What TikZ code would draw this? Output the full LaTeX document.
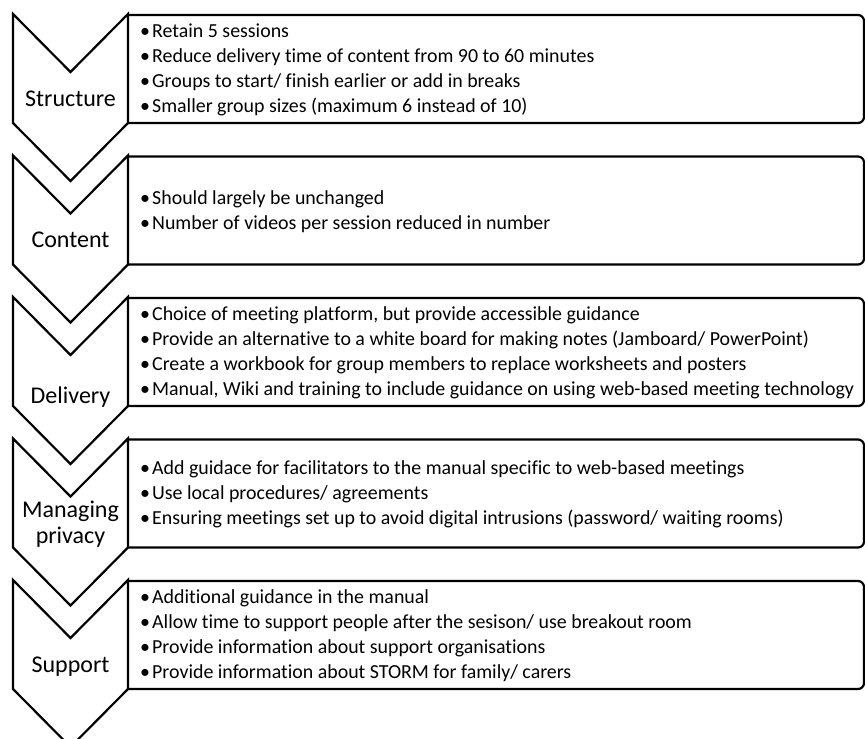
\documentclass[tikz,border=0pt]{standalone}
\usepackage{fontspec}
\setmainfont[Ligatures={NoCommon}]{Carlito}
\tikzset{
  chev/.style={draw=black, line width=2.2pt, line join=miter},
  panel/.style={draw=black, line width=2.2pt, rounded corners=6pt},
  lab/.style={font=\fontsize{24}{26}\selectfont, anchor=base, inner sep=0pt},
  item/.style={font=\fontsize{19.9}{25}\selectfont, anchor=base west, inner sep=0pt},
}
\newcommand\steprow[1]{%
  \draw[panel] (128,#1+1) -- (864,#1+1) -- (864,#1+109) -- (128,#1+109);
  \draw[chev] (13,#1) -- (70.5,#1+58) -- (128,#1) -- (128,#1+109) -- (70.5,#1+167) -- (13,#1+109) -- cycle;
}
\newcommand\bul{\makebox[12pt][l]{•}}
\begin{document}
\begin{tikzpicture}[x=1pt,y=-1pt]
\useasboundingbox (0,0) rectangle (865,739);
\clip (0,0) rectangle (865,739);
\steprow{14}
\steprow{155.5}
\steprow{297}
\steprow{438.5}
\steprow{580}
% labels
\node[lab] (l1) at (70.5,106) {Structure};
\node[lab] (l2) at (70.5,247) {Content};
\node[lab] (l3) at (70.5,403) {Delivery};
\node[lab] (l4a) at (70.5,517) {Managing};
\node[lab] (l4b) at (70.5,543) {privacy};
\node[lab] (l5) at (70.5,672) {Support};
% row 1
\node[item] (a1) at (140,37.5) {\bul Retain 5 sessions};
\node[item] (a2) at (140,62.5) {\bul Reduce delivery time of content from 90 to 60 minutes};
\node[item] (a3) at (140,87.5) {\bul Groups to start/ finish earlier or add in breaks};
\node[item] (a4) at (140,112.5) {\bul Smaller group sizes (maximum 6 instead of 10)};
% row 2
\node[item] (b1) at (140,204) {\bul Should largely be unchanged};
\node[item] (b2) at (140,229) {\bul Number of videos per session reduced in number};
% row 3
\node[item] (c1) at (140,320.5) {\bul Choice of meeting platform, but provide accessible guidance};
\node[item] (c2) at (140,345.5) {\bul Provide an alternative to a white board for making notes (Jamboard/ PowerPoint)};
\node[item] (c3) at (140,370.5) {\bul Create a workbook for group members to replace worksheets and posters};
\node[item] (c4) at (140,395.5) {\bul Manual, Wiki and training to include guidance on using web-based meeting technology};
% row 4
\node[item] (d1) at (140,474.5) {\bul Add guidace for facilitators to the manual specific to web-based meetings};
\node[item] (d2) at (140,499.5) {\bul Use local procedures/ agreements};
\node[item] (d3) at (140,524.5) {\bul Ensuring meetings set up to avoid digital intrusions (password/ waiting rooms)};
% row 5
\node[item] (e1) at (140,603.5) {\bul Additional guidance in the manual};
\node[item] (e2) at (140,628.5) {\bul Allow time to support people after the sesison/ use breakout room};
\node[item] (e3) at (140,653.5) {\bul Provide information about support organisations};
\node[item] (e4) at (140,678.5) {\bul Provide information about STORM for family/ carers};
\end{tikzpicture}
\end{document}
